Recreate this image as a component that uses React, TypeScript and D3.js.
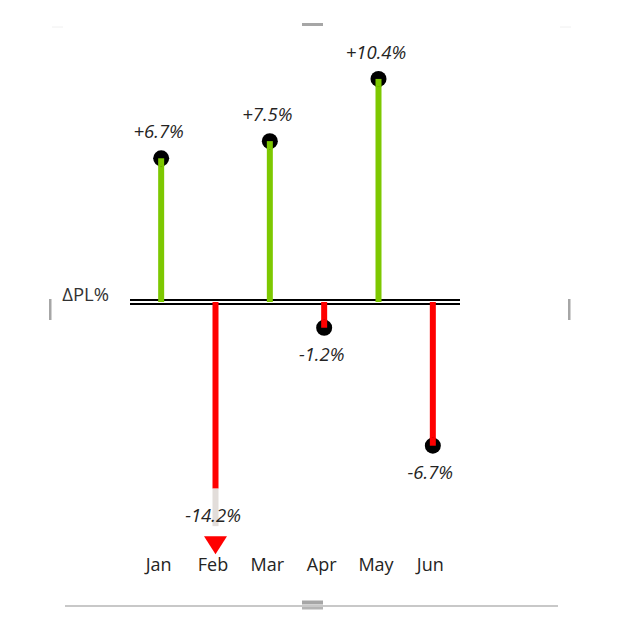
import React from 'react';
import * as d3 from 'd3';

const months = ['Jan', 'Feb', 'Mar', 'Apr', 'May', 'Jun'];
const deltaPL = [6.7, -14.2, 7.5, -1.2, 10.4, -6.7];
const valueLabels = ['+6.7%', '-14.2%', '+7.5%', '-1.2%', '+10.4%', '-6.7%'];
const measureName = 'ΔPL%';

const W = 620;
const H = 634;
const zeroY = 302;
const pxPerPct = 21.45;
const clipMin = -10.45; // values below this are cut and marked with a triangle
const fadeFrom = -8.7;

const GREEN = '#7dc800';
const RED = '#ff0000';
const TEXT = '#252423';
const FONT = '"Segoe UI", "Open Sans", sans-serif';

const App: React.FC = () => {
  const x = d3.scaleBand<string>().domain(months).range([134, 460]).padding(0);
  const y = d3
    .scaleLinear()
    .domain([0, 10])
    .range([zeroY, zeroY - pxPerPct * 10]);

  const cx = (m: string) => (x(m) ?? 0) + x.bandwidth() / 2;
  const barW = 6;

  return (
    <svg
      width={W}
      height={H}
      style={{ position: 'absolute', left: 0, top: 0, display: 'block', background: '#fff' }}
    >
      {/* visual frame decorations */}
      <rect x={302} y={23} width={21} height={3} fill="#a6a6a6" />
      <line x1={52} x2={63} y1={27} y2={27} stroke="#f0f0f0" strokeWidth={1} />
      <line x1={560} x2={571} y1={27} y2={27} stroke="#f0f0f0" strokeWidth={1} />
      <rect x={49} y={299} width={2.5} height={21} fill="#a6a6a6" />
      <rect x={568} y={299} width={2.5} height={21} fill="#a6a6a6" />
      <line x1={65} x2={558} y1={606} y2={606} stroke="#c8c8c8" strokeWidth={2.2} />
      <rect x={302} y={600.5} width={21} height={4} fill="#a6a6a6" />
      <rect x={302} y={607} width={21} height={2.5} fill="#b4b4b4" />

      {/* double baseline */}
      <line x1={130} x2={460} y1={300} y2={300} stroke="#000" strokeWidth={2} />
      <line x1={130} x2={460} y1={304} y2={304} stroke="#000" strokeWidth={2} />

      <text
        x={109}
        y={301}
        textAnchor="end"
        fontFamily={FONT}
        fontSize={18.5}
        fill="#333"
      >
        {measureName}
      </text>

      {months.map((m, i) => {
        const v = deltaPL[i];
        const px = cx(m);
        const clipped = v < clipMin;
        const pos = v >= 0;
        const color = pos ? GREEN : RED;
        const endY = y(clipped ? clipMin : v);
        let labelY = pos ? endY - 20 : endY + 33;
        if (clipped) labelY = endY - 4;
        return (
          <g key={m}>
            {clipped ? (
              <>
                <rect x={px - barW / 2} y={zeroY} width={barW} height={y(fadeFrom) - zeroY} fill={RED} />
                <rect
                  x={px - barW / 2}
                  y={y(fadeFrom)}
                  width={barW}
                  height={endY - y(fadeFrom)}
                  fill="#e2ddda"
                />
                <path
                  d={`M${px - 11.5},${y(clipMin) + 10} L${px + 11.5},${y(clipMin) + 10} L${px},${y(clipMin) + 28} Z`}
                  fill={RED}
                />
              </>
            ) : (
              <>
                <rect
                  x={px - barW / 2}
                  y={Math.min(zeroY, endY)}
                  width={barW}
                  height={Math.abs(endY - zeroY)}
                  fill={color}
                />
                <circle cx={px} cy={endY} r={8} fill="#000" />
                <rect
                  x={px - barW / 2}
                  y={pos ? endY : endY - 8}
                  width={barW}
                  height={8}
                  fill={color}
                />
              </>
            )}
            <text
              x={px - 2.5}
              y={labelY}
              textAnchor="middle"
              fontFamily={FONT}
              fontStyle="italic"
              fontSize={18.5}
              fill={TEXT}
            >
              {valueLabels[i]}
            </text>
            <text
              x={px - 2.5}
              y={571}
              textAnchor="middle"
              fontFamily={FONT}
              fontSize={18}
              fill={TEXT}
            >
              {m}
            </text>
          </g>
        );
      })}
    </svg>
  );
};

export default App;
